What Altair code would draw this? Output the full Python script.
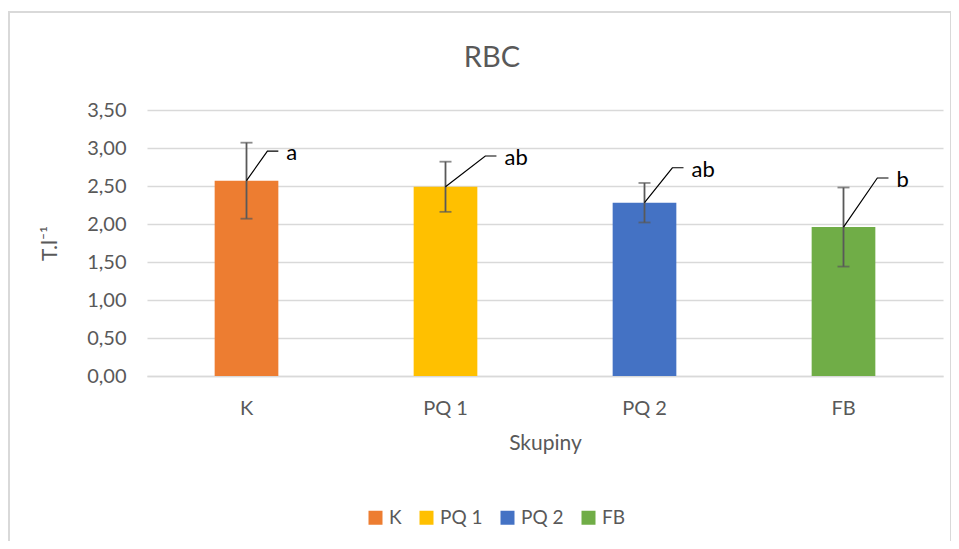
import altair as alt
import pandas as pd

# ---- data ----
groups = ["K", "PQ 1", "PQ 2", "FB"]
means = [2.57, 2.49, 2.28, 1.96]
errors = [0.50, 0.33, 0.26, 0.52]
letters = ["a", "ab", "ab", "b"]
colors = ["#ED7D31", "#FFC000", "#4472C4", "#70AD47"]
# significance-letter leader lines (in category widths from bar centre / value units)
lead_bend = [0.105, 0.20, 0.14, 0.17]
lead_end = [0.16, 0.256, 0.196, 0.226]
label_y = [2.96, 2.895, 2.74, 2.605]
y_ticks = [0, 0.5, 1, 1.5, 2, 2.5, 3, 3.5]
chart_title = "RBC"

FONT = "Lato"
GREY = "#595959"
YT = "T.l⁻¹"

df = pd.DataFrame({
    "group": groups,
    "mean": means,
    "lo": [m - e for m, e in zip(means, errors)],
    "hi": [m + e for m, e in zip(means, errors)],
})

rows = []
for i, g in enumerate(groups):
    c = i + 0.5
    rows.append({"group": g, "k": 0, "ax": c, "ly": means[i], "t": ""})
    rows.append({"group": g, "k": 1, "ax": c + lead_bend[i], "ly": label_y[i], "t": ""})
    rows.append({"group": g, "k": 2, "ax": c + lead_end[i], "ly": label_y[i], "t": letters[i]})
ann = pd.DataFrame(rows)

x_axis = alt.Axis(title="Skupiny", labelAngle=0, ticks=False, domainColor="#d9d9d9",
                  domainWidth=1.5, labelPadding=22, titlePadding=14, grid=False)
x_scale = alt.Scale(paddingInner=0.68, paddingOuter=0.34)
y_axis = alt.Axis(values=y_ticks, labelExpr="replace(format(datum.value,'.2f'),'.',',')",
                  ticks=False, domain=False, gridColor="#d9d9d9", gridWidth=1.5,
                  labelPadding=21, titlePadding=26, labelOverlap=False, title=YT)
y_scale = alt.Scale(domain=[0, 3.5], nice=False)


def X():
    return alt.X("group:N", sort=groups, scale=x_scale, axis=x_axis)


def Y(f):
    return alt.Y(f, scale=y_scale, axis=y_axis)


border = alt.Chart(df).mark_rect(fill=None, stroke="#d9d9d9", strokeWidth=1.5).encode(
    x=alt.value(-138), x2=alt.value(804), y=alt.value(-98), y2=alt.value(450)
)

title_df = pd.DataFrame({"t": [chart_title]})
title = alt.Chart(title_df).mark_text(
    fontSize=29, font=FONT, color=GREY, align="center", baseline="alphabetic"
).encode(x=alt.value(345), y=alt.value(-43), text="t:N")

bars = alt.Chart(df).mark_bar().encode(
    x=X(),
    y=Y("mean:Q"),
    color=alt.Color("group:N", sort=groups, scale=alt.Scale(domain=groups, range=colors),
                    legend=alt.Legend(title=None, orient="none", direction="horizontal",
                                      legendX=219, legendY=398, symbolType="square",
                                      symbolSize=196, symbolStrokeWidth=0,
                                      labelFontSize=19, labelColor=GREY, labelFont=FONT,
                                      columnPadding=15, labelOffset=4, padding=0)),
)

err = alt.Chart(df).mark_rule(color=GREY, strokeWidth=1.8).encode(
    x=X(), y=Y("lo:Q"), y2="hi:Q"
)
cap_hi = alt.Chart(df).mark_tick(color=GREY, size=12, thickness=1.8).encode(
    x=X(), y=Y("hi:Q")
)
cap_lo = alt.Chart(df).mark_tick(color=GREY, size=12, thickness=1.8).encode(
    x=X(), y=Y("lo:Q")
)

base = alt.layer(border, title, bars, err, cap_hi, cap_lo)

ann_x = alt.X("ax:Q", scale=alt.Scale(domain=[0, 4], nice=False, zero=False), axis=None)
lead = alt.Chart(ann).mark_line(color="black", strokeWidth=1.2).encode(
    x=ann_x, y=Y("ly:Q"), detail="group:N", order="k:Q"
)
txt = alt.Chart(ann).transform_filter("datum.k == 2").mark_text(
    align="left", baseline="middle", dx=8, dy=2, fontSize=22, font=FONT, color="black"
).encode(x=ann_x, y=Y("ly:Q"), text="t:N")

annot = alt.layer(lead, txt)

chart = alt.layer(base, annot).resolve_scale(x="independent").properties(
    width=796, height=266,
    padding={"left": 139, "top": 102, "right": 8, "bottom": 165},
    autosize=alt.AutoSizeParams(type="none"),
).configure_axis(
    labelFont=FONT, labelFontSize=20, labelColor=GREY,
    titleFont=FONT, titleFontSize=21, titleColor=GREY, titleFontWeight="normal",
).configure_view(stroke=None)

chart.save("out.html", embed_options={"renderer": "svg", "actions": False})
